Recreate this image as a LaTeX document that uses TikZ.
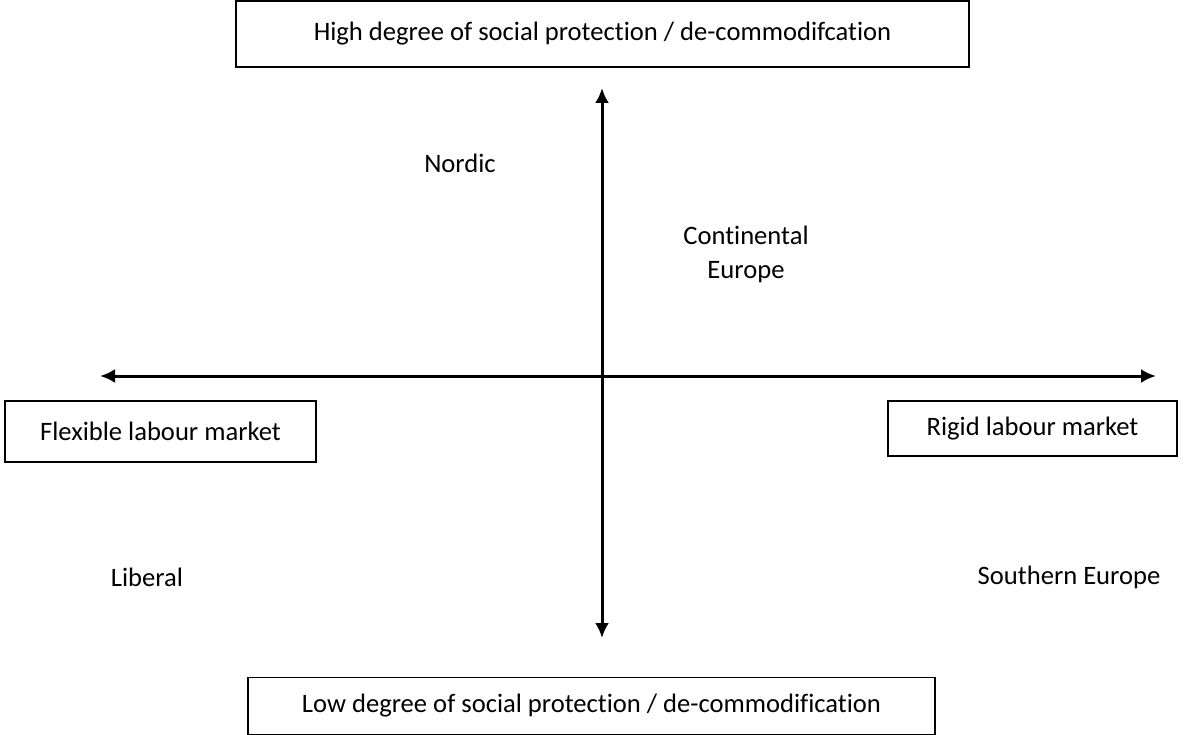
\documentclass[tikz,border=0pt]{standalone}
\usepackage{fontspec}
\setmainfont{Carlito}[Ligatures={CommonOff}]
\usetikzlibrary{arrows.meta}
\tikzset{
    axisbox/.style = {rectangle, draw=black, line width=1.6pt, align=center, inner sep=0pt, font=\fontsize{26.6}{30}\selectfont},
    regime/.style = {align=center, inner sep=0pt, font=\fontsize{26.6}{34}\selectfont},
    axisarrow/.style = {{Latex[length=15pt,width=14pt]}-{Latex[length=15pt,width=14pt]}, line width=3pt}
}
\begin{document}
\begin{tikzpicture}[x=1pt,y=-1pt]
%
\useasboundingbox (0,0) rectangle (1201,735);
\node[axisbox, minimum width=733pt, minimum height=66pt] at (602.5,34) (high) {High degree of social protection / de-commodifcation};
\node[axisbox, minimum width=687pt, minimum height=57pt] at (591.5,706) (low) {Low degree of social protection / de-commodification};
\node[axisbox, minimum width=311pt, minimum height=61pt] at (160.5,431.5) (flex) {Flexible labour market};
\node[axisbox, minimum width=289pt, minimum height=55pt] at (1032.5,428.5) (rigid) {Rigid labour market};
%
\coordinate (top) at (602,88);
\coordinate (bottom) at (602,638);
\coordinate (left) at (100,376);
\coordinate (right) at (1156,376);
%
\node[regime] at (460,163) (nordic) {Nordic};
\node[regime] at (746,254) (cont) {Continental\\Europe};
\node[regime] at (147,577) (liberal) {Liberal};
\node[regime] at (1069,577) (south) {Southern Europe};
%
\draw[axisarrow] (bottom) -- (top);
\draw[axisarrow] (left) -- (right);
\end{tikzpicture}
\end{document}
